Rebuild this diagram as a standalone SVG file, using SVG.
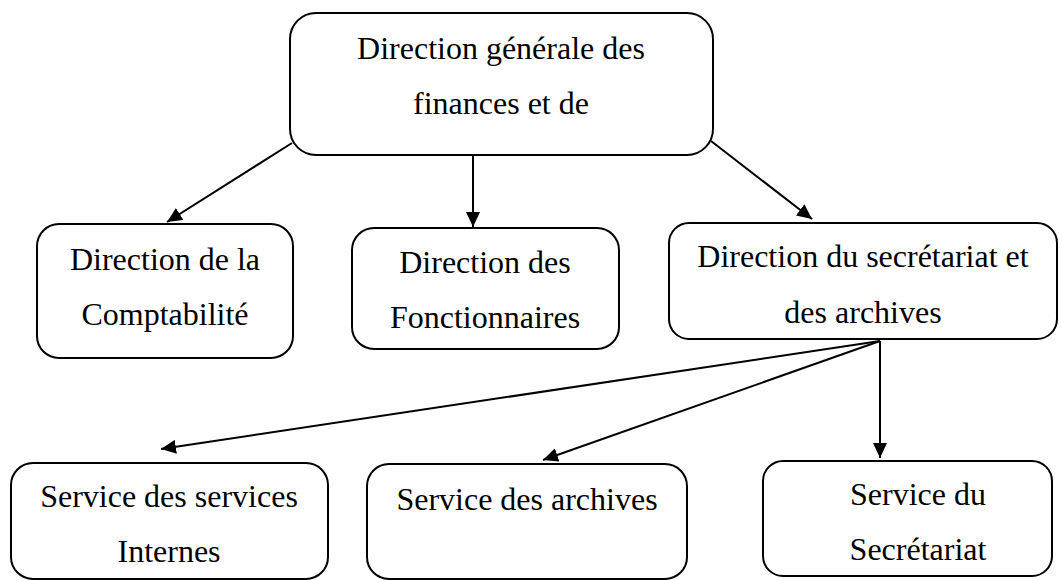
<svg xmlns="http://www.w3.org/2000/svg" width="1062" height="580" viewBox="0 0 1062 580">
<style>
.box{fill:#fff;stroke:#000;stroke-width:2}
.t{font-family:"Liberation Serif","Times New Roman",serif;font-size:32px;fill:#000;text-anchor:middle}
.c{stroke:#000;stroke-width:2;fill:none;marker-end:url(#ah)}
</style>
<defs>
<marker id="ah" markerUnits="userSpaceOnUse" markerWidth="16" markerHeight="14" refX="15" refY="7" orient="auto">
<path d="M0,0 L15,7 L0,14 Z" fill="#000"/>
</marker>
</defs>
<rect width="1062" height="580" fill="#fff"/>
<g id="connectors">
<path class="c" d="M292,143 L167,222"/>
<path class="c" d="M473,156 L473,227"/>
<path class="c" d="M711,141 L812,219"/>
<path class="c" d="M880,341 L161,449"/>
<path class="c" d="M880,341 L543,460"/>
<path class="c" d="M880,341 L880,458"/>
</g>
<g id="n1">
<rect class="box" x="290" y="13" width="423" height="142" rx="26"/>
<text class="t" x="501" y="59">Direction générale des</text>
<text class="t" x="501" y="114">finances et de</text>
</g>
<g id="n2">
<rect class="box" x="37" y="224" width="256" height="134" rx="22"/>
<text class="t" x="165" y="270">Direction de la</text>
<text class="t" x="165" y="325">Comptabilité</text>
</g>
<g id="n3">
<rect class="box" x="352" y="228" width="267" height="121" rx="22"/>
<text class="t" x="485" y="273">Direction des</text>
<text class="t" x="485" y="328">Fonctionnaires</text>
</g>
<g id="n4">
<rect class="box" x="669" y="223" width="388" height="116" rx="20"/>
<text class="t" x="863" y="267">Direction du secrétariat et</text>
<text class="t" x="863" y="323">des archives</text>
</g>
<g id="n5">
<rect class="box" x="11" y="463" width="317" height="116" rx="22"/>
<text class="t" x="169" y="507">Service des services</text>
<text class="t" x="169" y="562">Internes</text>
</g>
<g id="n6">
<rect class="box" x="367" y="464" width="320" height="115" rx="22"/>
<text class="t" x="527" y="510">Service des archives</text>
</g>
<g id="n7">
<rect class="box" x="763" y="461" width="289" height="115" rx="20"/>
<text class="t" x="918" y="505">Service du</text>
<text class="t" x="918" y="560">Secrétariat</text>
</g>
</svg>
